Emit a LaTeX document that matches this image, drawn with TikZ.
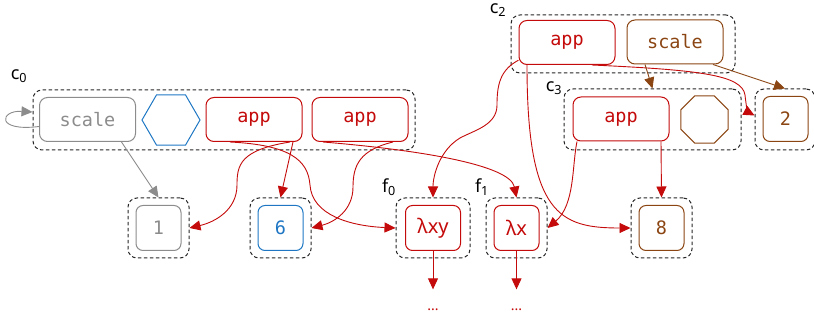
\documentclass[tikz,border=0pt]{standalone}
\usepackage{fontspec}
\setmainfont{Noto Sans}
\newfontfamily\codefont{DejaVu Sans Mono}
\usetikzlibrary{arrows.meta,shapes.geometric,calc}
\definecolor{cred}{HTML}{C40A0A}
\definecolor{cgray}{HTML}{8C8C8C}
\definecolor{cblue}{HTML}{1F77C4}
\definecolor{cbrown}{HTML}{8B4513}
\begin{document}
\begin{tikzpicture}[x=1pt,y=-1pt,
  cont/.style={draw=black!85, dash pattern=on 3.5pt off 2.5pt, line width=1pt, rounded corners=9pt, inner sep=0pt},
  op/.style={draw, rounded corners=8pt, line width=1pt, minimum width=96pt, minimum height=44pt, inner sep=0pt, font=\codefont\fontsize{18.5}{20}\selectfont},
  val/.style={draw, rounded corners=7pt, line width=1pt, minimum width=45pt, minimum height=45pt, inner sep=0pt, font=\codefont\fontsize{18.5}{20}\selectfont},
  lam/.style={draw=cred, text=cred, rounded corners=7pt, line width=1pt, minimum height=45pt, inner sep=0pt, font=\fontsize{20}{22}\selectfont},
  lbl/.style={inner sep=0pt, font=\fontsize{18}{20}\selectfont},
  dotsn/.style={inner sep=0pt, text=cred, font=\bfseries\fontsize{14}{14}\selectfont},
  tip/.style={-{Triangle[length=11pt,width=10pt]}, line width=0.9pt},
  redge/.style={tip, draw=cred, fill=none},
  gedge/.style={tip, draw=cgray},
  bedge/.style={tip, draw=cbrown}
]
\useasboundingbox (0,0) rectangle (814,320);

% c0
\node[cont, minimum width=382pt, minimum height=60pt] (c0) at (224,120) {};
\node[lbl] (lc0) at (19,76) {c\textsubscript{0}};
\node[op, draw=cgray, text=cgray] (sA) at (87.5,119.5) {scale};
\node[draw=cblue, line width=1pt, regular polygon, regular polygon sides=6, minimum size=58pt, inner sep=0pt] (hx) at (171,120) {};
\node[op, draw=cred, text=cred] (ap1) at (254,119.5) {app};
\node[op, draw=cred, text=cred] (ap2) at (360,119.5) {app};

% bottom row
\node[cont, minimum width=61pt, minimum height=60pt] (b1) at (158.5,228) {};
\node[val, draw=cgray, text=cgray] (v1) at (158.5,228) {1};
\node[cont, minimum width=61pt, minimum height=60pt] (b6) at (280.5,228) {};
\node[val, draw=cblue, text=cblue] (v6) at (280.5,228) {6};
\node[cont, minimum width=74pt, minimum height=60pt] (bf0) at (433,228) {};
\node[lam, minimum width=55pt] (lf0) at (433,228) {λxy};
\node[lbl] (tf0) at (389,187) {f\textsubscript{0}};
\node[cont, minimum width=61pt, minimum height=60pt] (bf1) at (516.5,228) {};
\node[lam, minimum width=45pt] (lf1) at (516.5,228) {λx};
\node[lbl] (tf1) at (482,187) {f\textsubscript{1}};
\node[cont, minimum width=61pt, minimum height=60pt] (b8) at (661.5,228) {};
\node[val, draw=cbrown, text=cbrown] (v8) at (661.5,228) {8};
\node[dotsn] (d0) at (433,309.5) {...};
\node[dotsn] (d1) at (516.5,309.5) {...};

% c2
\node[cont, minimum width=224pt, minimum height=58pt] (c2) at (623,44) {};
\node[lbl] (lc2) at (498,10) {c\textsubscript{2}};
\node[op, draw=cred, text=cred] (apc2) at (567,42.5) {app};
\node[op, draw=cbrown, text=cbrown] (scC2) at (675,42) {scale};

% c3
\node[cont, minimum width=177pt, minimum height=61pt] (c3) at (652.5,119.5) {};
\node[lbl] (lc3) at (554,88) {c\textsubscript{3}};
\node[op, draw=cred, text=cred] (apc3) at (621,119) {app};
\node[draw=cbrown, line width=1pt, regular polygon, regular polygon sides=8, minimum size=51pt, inner sep=0pt] (oct) at (704.5,119.5) {};

% 2
\node[cont, minimum width=60pt, minimum height=61pt] (b2) at (785,119.5) {};
\node[val, draw=cbrown, text=cbrown] (v2) at (785.5,119) {2};

% connectors
\draw[gedge] ([yshift=-7pt]sA.west) .. controls (-5,132) and (0,110) .. ([yshift=8pt]c0.west);
\draw[gedge] ([xshift=34pt]sA.south) -- (b1.north);

\draw[redge] ([xshift=36pt]ap1.south) .. controls (240,150) and (237,165) .. (237,185) .. controls (237,210) and (215,222) .. (b1.east);
\draw[redge] ([xshift=39pt]ap1.south) -- (b6.north);
\draw[redge] ([xshift=-24pt]ap1.south) .. controls (290,145) and (308,160) .. (310,185) .. controls (312,215) and (350,226) .. (bf0.west);
\draw[redge] ([xshift=33pt]ap2.south) .. controls (360,150) and (353,165) .. (353,187) .. controls (353,210) and (335,222) .. (b6.east);
\draw[redge] ([xshift=-37pt]ap2.south) .. controls (420,150) and (510,165) .. (bf1.north);

\draw[redge] (apc2.200) .. controls (500,70) and (497,85) .. (497,105) .. controls (497,125) and (475,130) .. (460,138) .. controls (440,150) and (433,175) .. (bf0.north);
\draw[redge] ([xshift=-40pt]apc2.south) .. controls (527,215) and (560,228) .. (b8.west);
\draw[redge] ([xshift=25pt]apc2.south) .. controls (700,70) and (742,75) .. (745,95) .. controls (746,105) and (748,112) .. ([yshift=4pt]b2.west);

\draw[redge] ([xshift=40pt]apc3.south) -- (b8.north);
\draw[redge] ([xshift=-44pt]apc3.south) .. controls (572,165) and (575,205) .. (bf1.east);

\draw[redge, shorten >=19pt] (lf0.south) -- (d0.north);
\draw[redge, shorten >=19pt] (lf1.south) -- (d1.north);

\draw[bedge] ([xshift=-30pt]scC2.south) -- (c3.north);
\draw[bedge] ([xshift=38pt]scC2.south) -- (b2.north);
\end{tikzpicture}
\end{document}
